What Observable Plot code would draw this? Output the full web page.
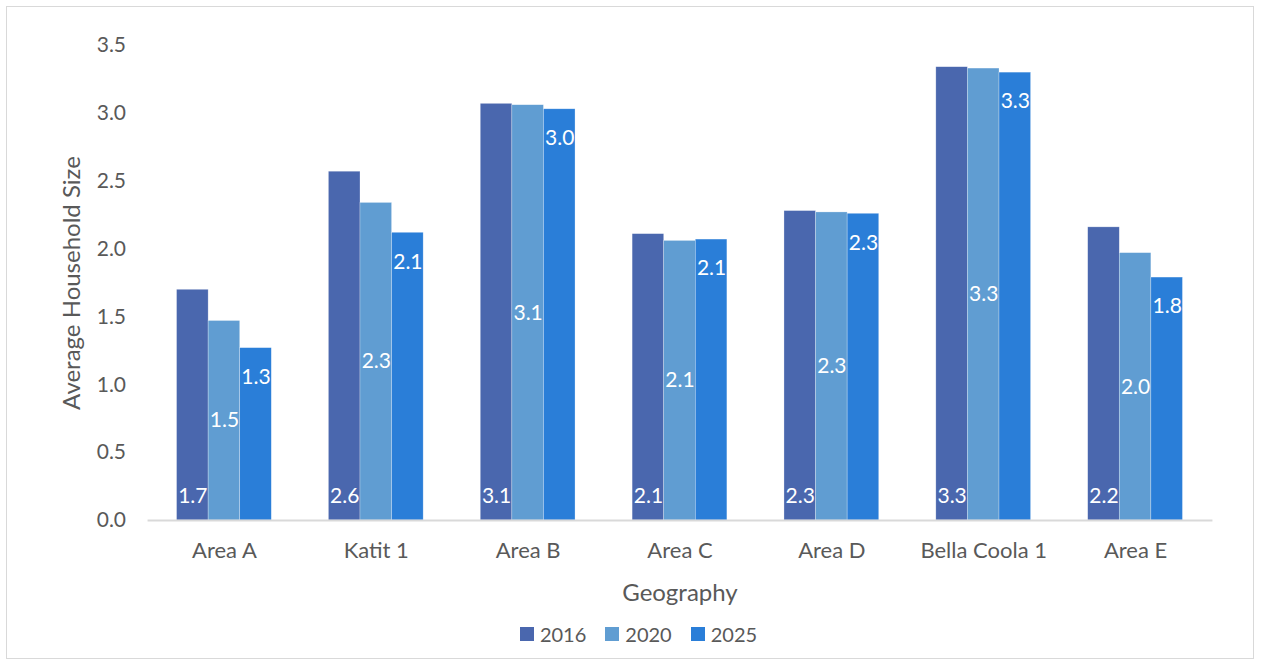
<!DOCTYPE html>
<html>
<head>
<meta charset="utf-8">
<script src="https://cdn.jsdelivr.net/npm/d3@7"></script>
<script src="https://cdn.jsdelivr.net/npm/@observablehq/plot@0.6"></script>
<style>
  html, body { margin: 0; padding: 0; background: #fff; }
  body { width: 1261px; height: 666px; position: relative; overflow: hidden; font-family: Lato, "Open Sans", sans-serif; }
  #border { position: absolute; left: 6px; top: 6px; width: 1248px; height: 653px; border: 1px solid #d9d9d9; box-sizing: border-box; }
  #chart { position: absolute; left: 0; top: 0; }
  #legend { position: absolute; left: 0; width: 1261px; box-sizing: border-box; padding-left: 16px; top: 622px; display: flex; justify-content: center; gap: 19px; color: #595959; font-size: 20px; }
  #legend .item { display: flex; align-items: center; gap: 6px; }
  #legend .sw { width: 14px; height: 14px; display: inline-block; }
</style>
</head>
<body>
<div id="border"></div>
<div id="chart"></div>
<div id="legend"></div>
<script>
const categories = ["Area A", "Katit 1", "Area B", "Area C", "Area D", "Bella Coola 1", "Area E"];
const years = ["2016", "2020", "2025"];
const v2016 = [1.70, 2.57, 3.07, 2.11, 2.28, 3.34, 2.16];
const v2020 = [1.47, 2.34, 3.06, 2.06, 2.27, 3.33, 1.97];
const v2025 = [1.27, 2.12, 3.03, 2.07, 2.26, 3.30, 1.79];
const yTicks = [0, 0.5, 1.0, 1.5, 2.0, 2.5, 3.0, 3.5];
const colors = ["#4a67ae", "#609dd2", "#2a7ed8"];

const series = {"2016": v2016, "2020": v2020, "2025": v2025};
const rows = [];
for (const y of years) categories.forEach((c, i) => rows.push({cat: c, year: y, value: series[y][i]}));
const fmt = d => d.value.toFixed(1);

const chart = Plot.plot({
  width: 1261,
  height: 610,
  marginLeft: 148,
  marginRight: 50,
  marginTop: 45,
  marginBottom: 90,
  style: {fontFamily: "Lato, 'Open Sans', sans-serif", color: "#595959", background: "transparent"},
  fx: {domain: categories, paddingInner: 0.376, paddingOuter: 0.188, round: false, label: "Geography"},
  x: {domain: years, padding: 0, round: false, axis: null},
  y: {domain: [0, 3.5], label: "Average Household Size"},
  color: {domain: years, range: colors},
  marks: [
    Plot.axisY({ticks: yTicks, tickFormat: d => d.toFixed(1), tickSize: 0, tickPadding: 51, fontSize: 21,
      label: "Average Household Size", labelArrow: "none", labelAnchor: "center", labelOffset: 114}),
    Plot.axisFx({anchor: "bottom", tickSize: 0, tickPadding: 22, fontSize: 22,
      label: "Geography", labelArrow: "none", labelAnchor: "center", labelOffset: 80}),
    Plot.barY(rows, {fx: "cat", x: "year", y: "value", fill: "year", stroke: "#ffffff", strokeOpacity: 0.45, strokeWidth: 0.6}),
    Plot.frame({anchor: "bottom", facet: "super", stroke: "#d9d9d9", strokeWidth: 2, insetLeft: -28.5, insetRight: -28.5}),
    Plot.text(rows.filter(d => d.year === "2016"), {fx: "cat", x: "year", y: 0, text: fmt, dy: -24, fill: "white", fontSize: 21}),
    Plot.text(rows.filter(d => d.year === "2020"), {fx: "cat", x: "year", y: d => d.value / 2, text: fmt, fill: "white", fontSize: 21}),
    Plot.text(rows.filter(d => d.year === "2025"), {fx: "cat", x: "year", y: "value", text: fmt, dy: 29, fill: "white", fontSize: 21})
  ]
});
chart.querySelectorAll("text").forEach(t => {
  if (t.textContent === "Average Household Size" || t.textContent === "Geography") t.setAttribute("font-size", 24);
});
document.getElementById("chart").appendChild(chart);

const legend = document.getElementById("legend");
years.forEach((y, i) => {
  const it = document.createElement("span");
  it.className = "item";
  const sw = document.createElement("span");
  sw.className = "sw";
  sw.style.background = colors[i];
  const tx = document.createElement("span");
  tx.textContent = y;
  it.appendChild(sw); it.appendChild(tx);
  legend.appendChild(it);
});
</script>
</body>
</html>
